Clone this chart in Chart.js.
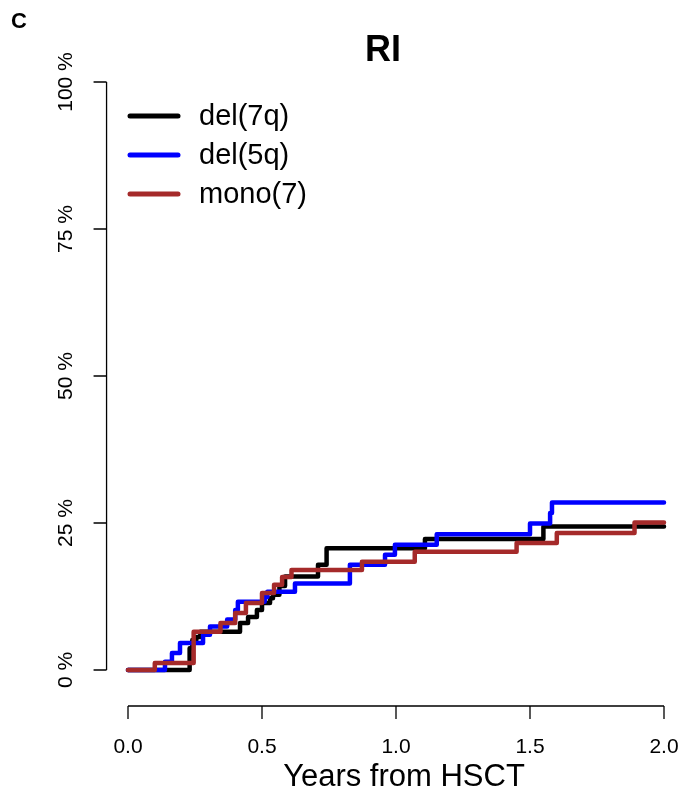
<!DOCTYPE html>
<html>
<head>
<meta charset="utf-8">
<title>RI</title>
<script src="https://cdn.jsdelivr.net/npm/chart.js@4/dist/chart.umd.min.js"></script>
<style>
  html, body { margin: 0; padding: 0; background: #ffffff; }
  canvas { display: block; }
</style>
</head>
<body>
<canvas id="ri" width="681" height="795"></canvas>
<script>
// Cumulative incidence of relapse (%) by cytogenetic group, step changes at event times (years)
const del7qYears = [0, 0.23, 0.24, 0.255, 0.27, 0.418, 0.448, 0.481, 0.50, 0.53, 0.541, 0.565, 0.586, 0.709, 0.741, 1.108, 1.55, 2.0];
const del7qPct   = [0, 3.7, 5.1, 5.6, 6.5, 8.0, 9.0, 10.2, 11.4, 12.2, 12.8, 14.3, 15.9, 17.9, 20.7, 22.3, 24.4, 24.4];

const del5qYears = [0, 0.138, 0.164, 0.194, 0.28, 0.306, 0.37, 0.40, 0.41, 0.51, 0.52, 0.623, 0.828, 0.959, 0.996, 1.152, 1.50, 1.575, 1.582, 2.0];
const del5qPct   = [0, 1.4, 2.9, 4.6, 6.0, 7.4, 8.6, 10.2, 11.6, 12.4, 13.3, 14.7, 17.9, 19.6, 21.3, 23.1, 24.9, 26.7, 28.5, 28.5];

const mono7Years = [0, 0.10, 0.245, 0.345, 0.40, 0.44, 0.50, 0.545, 0.575, 0.61, 0.873, 1.07, 1.45, 1.60, 1.89, 2.0];
const mono7Pct   = [0, 1.2, 6.5, 8.0, 9.7, 11.4, 13.1, 14.5, 15.8, 17.0, 18.4, 20.1, 21.6, 23.3, 25.1, 25.1];

const seriesNames  = ['del(7q)', 'del(5q)', 'mono(7)'];
const seriesColors = ['#000000', '#0000ff', '#a52a2a'];

const xTickValues = [0, 0.5, 1.0, 1.5, 2.0];
const xTickLabels = ['0.0', '0.5', '1.0', '1.5', '2.0'];
const yTickValues = [0, 25, 50, 75, 100];
const yTickLabels = ['0 %', '25 %', '50 %', '75 %', '100 %'];

const panelLetter = 'C';
const plotTitle = 'RI';
const xAxisTitle = 'Years from HSCT';

const FONT = '"Liberation Sans", Arial, Helvetica, sans-serif';

function toPoints(xs, ys) {
  return xs.map((x, i) => ({ x: x, y: ys[i] }));
}

// R-style detached axes, title and legend, placed with the chart's own scales
const baseGraphics = {
  id: 'baseGraphics',
  afterDraw(chart) {
    const ctx = chart.ctx;
    const xs = chart.scales.x;
    const ys = chart.scales.y;
    const area = chart.chartArea;
    const xExt = (area.right - area.left) * 0.04;
    const axisY = area.bottom + 36;     // x axis line position
    const axisX = area.left - xExt;     // y axis line position
    const tick = 13;

    ctx.save();
    ctx.strokeStyle = '#000';
    ctx.fillStyle = '#000';
    ctx.lineWidth = 1.3;
    ctx.lineCap = 'butt';

    // x axis
    const x0 = xs.getPixelForValue(xTickValues[0]);
    const x1 = xs.getPixelForValue(xTickValues[xTickValues.length - 1]);
    ctx.beginPath();
    ctx.moveTo(x0, axisY);
    ctx.lineTo(x1, axisY);
    xTickValues.forEach(v => {
      const px = xs.getPixelForValue(v);
      ctx.moveTo(px, axisY);
      ctx.lineTo(px, axisY + tick);
    });
    ctx.stroke();

    ctx.font = '21px ' + FONT;
    ctx.textAlign = 'center';
    ctx.textBaseline = 'middle';
    xTickValues.forEach((v, i) => {
      ctx.fillText(xTickLabels[i], xs.getPixelForValue(v), axisY + 41);
    });

    // y axis
    const y0 = ys.getPixelForValue(yTickValues[0]);
    const y1 = ys.getPixelForValue(yTickValues[yTickValues.length - 1]);
    ctx.beginPath();
    ctx.moveTo(axisX, y0);
    ctx.lineTo(axisX, y1);
    yTickValues.forEach(v => {
      const py = ys.getPixelForValue(v);
      ctx.moveTo(axisX, py);
      ctx.lineTo(axisX - tick, py);
    });
    ctx.stroke();

    yTickValues.forEach((v, i) => {
      const py = ys.getPixelForValue(v);
      ctx.save();
      ctx.translate(axisX - 40, py);
      ctx.rotate(-Math.PI / 2);
      ctx.fillText(yTickLabels[i], 0, 0);
      ctx.restore();
    });

    // axis title
    ctx.font = '31px ' + FONT;
    ctx.fillText(xAxisTitle, (area.left + area.right) / 2 + 8, 777);

    // main title
    ctx.font = 'bold 36px ' + FONT;
    ctx.fillText(plotTitle, 383, 51);

    // panel letter
    ctx.font = 'bold 22px ' + FONT;
    ctx.textAlign = 'left';
    ctx.fillText(panelLetter, 11, 22);

    // legend
    ctx.font = '29px ' + FONT;
    ctx.lineWidth = 5;
    ctx.lineCap = 'round';
    const legendRows = [116, 155, 194];
    seriesNames.forEach((name, i) => {
      const ly = legendRows[i];
      ctx.strokeStyle = seriesColors[i];
      ctx.beginPath();
      ctx.moveTo(130, ly);
      ctx.lineTo(178, ly);
      ctx.stroke();
      ctx.fillStyle = '#000';
      ctx.fillText(name, 199, ly + 1);
    });

    ctx.restore();
  }
};

// each value holds until the next event time, then the curve steps up
const datasets = [
  { label: seriesNames[0], data: toPoints(del7qYears, del7qPct), borderColor: seriesColors[0], order: 2 },
  { label: seriesNames[1], data: toPoints(del5qYears, del5qPct), borderColor: seriesColors[1], order: 1 },
  { label: seriesNames[2], data: toPoints(mono7Years, mono7Pct), borderColor: seriesColors[2], order: 0 }
].map(d => Object.assign(d, {
  stepped: 'before',
  borderWidth: 4.5,
  pointRadius: 0,
  fill: false,
  clip: 10,
  borderCapStyle: 'round',
  borderJoinStyle: 'round'
}));

new Chart(document.getElementById('ri'), {
  type: 'line',
  data: { datasets: datasets },
  options: {
    responsive: false,
    animation: false,
    layout: { padding: { left: 128, right: 17, top: 82, bottom: 125 } },
    scales: {
      x: { type: 'linear', min: 0, max: 2, display: false },
      y: { type: 'linear', min: 0, max: 100, display: false }
    },
    plugins: {
      legend: { display: false },
      tooltip: { enabled: false },
      title: { display: false }
    }
  },
  plugins: [baseGraphics]
});
</script>
</body>
</html>
